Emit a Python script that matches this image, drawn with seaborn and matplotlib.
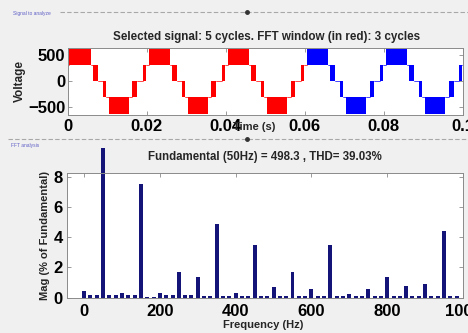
import numpy as np
import matplotlib
matplotlib.use("Agg")
import matplotlib.pyplot as plt
import seaborn as sns
from matplotlib.lines import Line2D

# ---- signal: one 20 ms cycle of the multilevel PWM waveform
period_ms = 20.0
n_cycles = 5
n_red = 3
block_start = [0.5, 6.35, 8.95, 10.45, 16.4, 19.0]     # ms
block_end = [5.85, 7.65, 9.75, 15.5, 17.6, 19.75]      # ms
block_low = [310, 0, -310, -630, -310, 0]
block_high = [630, 310, 0, -310, 0, 310]
hold_level = [310, 0, -310, -310, 0, 310]              # level after each block

# ---- FFT: 3-cycle window -> 16.67 Hz bins
harm_mag = [0.45, 9.9, 0.3, 7.5, 0.33, 1.67, 1.35, 4.85, 0.3, 3.5,
            0.7, 1.67, 0.57, 3.5, 0.24, 0.57, 1.35, 0.78, 0.9, 4.4]
side_mag = [0.2, 0.18, 0.15, 0.07, 0.15, 0.15, 0.12, 0.12, 0.13, 0.12,
            0.12, 0.1, 0.08, 0.12, 0.12, 0.12, 0.12, 0.12, 0.12, 0.12]
fundamental = 498.3
thd = 39.03

mags = []
for h, s in zip(harm_mag, side_mag):
    mags += [h, s, s]
freqs = np.arange(len(mags)) * 50.0 / 3.0

sns.set_theme(style="white")
plt.rcParams['font.family'] = ['Liberation Sans', 'DejaVu Sans']
plt.rcParams['font.weight'] = 'bold'

bg = '#f0f0f0'
fig = plt.figure(figsize=(4.68, 3.33), dpi=100, facecolor=bg)
W, H = 468.0, 333.0

def axes_px(l, t, r, b):
    return fig.add_axes([l / W, 1 - b / H, (r - l) / W, (b - t) / H])

def style_axes(ax):
    for sp in ax.spines.values():
        sp.set_color('#8a8a8a')
        sp.set_linewidth(0.7)
    ax.tick_params(direction='in', length=3, width=0.6, color='#8a8a8a',
                   top=True, right=True, bottom=True, left=True,
                   labelsize=12, labelcolor='black')
    for lab in ax.get_xticklabels() + ax.get_yticklabels():
        lab.set_fontweight('bold')

# ---- top panel: signal
ax1 = axes_px(67.5, 48, 463, 115)
ax1.set_facecolor('white')
for c in range(n_cycles):
    col = '#ff0000' if c < n_red else '#0000ff'
    t0 = c * period_ms
    for i in range(len(block_start)):
        ts = (t0 + block_start[i]) / 1000
        te = (t0 + block_end[i]) / 1000
        ax1.fill_between([ts, te], block_low[i], block_high[i], color=col, lw=0)
        nxt = (t0 + (block_start[i + 1] if i + 1 < len(block_start)
                     else period_ms + block_start[0])) / 1000
        ax1.plot([te, min(nxt, 0.1)], [hold_level[i]] * 2, color=col, lw=0.5)
    if c == 0:
        ax1.plot([0, block_start[0] / 1000], [hold_level[-1]] * 2, color=col, lw=0.5)
ax1.set_xlim(0, 0.1)
ax1.set_ylim(-650, 640)
ax1.set_xticks([0, 0.02, 0.04, 0.06, 0.08, 0.1])
ax1.set_xticklabels(['0', '0.02', '0.04', '0.06', '0.08', '0.1'])
ax1.set_yticks([-500, 0, 500])
style_axes(ax1)
ax1.tick_params(axis='x', pad=3)
ax1.tick_params(axis='y', pad=1.5)
ax1.set_xlabel('Time (s)', fontsize=8, fontweight='bold', va='center')
ax1.xaxis.set_label_coords(0.471, -0.18)
ax1.set_ylabel('Voltage', fontsize=8.5, fontweight='bold', va='center')
ax1.yaxis.set_label_coords(-0.12, 0.5)
ax1.text(0.504, 1.165, 'Selected signal: 5 cycles. FFT window (in red): 3 cycles',
         transform=ax1.transAxes, ha='center', va='center', fontsize=8.4, fontweight='bold')

# ---- bottom panel: FFT
ax2 = axes_px(66.7, 173, 463, 297.7)
ax2.set_facecolor('white')
sns.barplot(x=freqs, y=mags, native_scale=True, width=0.63, color='#141478',
            saturation=1, linewidth=0, ax=ax2)
for p in ax2.patches:
    p.set_clip_on(False)
ax2.set_xlim(-46, 1000)
ax2.set_ylim(0, 8.25)
ax2.set_xticks([0, 200, 400, 600, 800, 1000])
ax2.set_xticklabels(['0', '200', '400', '600', '800', '1000'])
ax2.set_yticks([0, 2, 4, 6, 8])
style_axes(ax2)
ax2.tick_params(axis='x', pad=4.5)
ax2.tick_params(axis='y', pad=3)
ax2.set_xlabel('Frequency (Hz)', fontsize=8, fontweight='bold', va='center')
ax2.xaxis.set_label_coords(0.495, -0.22)
ax2.set_ylabel('Mag (% of Fundamental)', fontsize=8, fontweight='bold', va='center')
ax2.yaxis.set_label_coords(-0.055, 0.5)
ax2.text(0.5, 1.128, f'Fundamental (50Hz) = {fundamental} , THD= {thd}%',
         transform=ax2.transAxes, ha='center', va='center', fontsize=8.3, fontweight='bold')

# ---- panel frames (dashed borders with small titles)
for y, x0 in [(12, 60), (139, 8)]:
    fig.add_artist(Line2D([x0 / W, 1], [1 - y / H] * 2, transform=fig.transFigure,
                          color='#a8a8a8', lw=0.8, ls=(0, (4, 2))))
    fig.add_artist(Line2D([247 / W], [1 - y / H], transform=fig.transFigure,
                          marker='o', ms=2.5, color='#333333', lw=0))
fig.text(13 / W, 1 - 14 / H, 'Signal to analyze', fontsize=3.5, color='#6060c8',
         fontweight='normal', va='center')
fig.text(11 / W, 1 - 145 / H, 'FFT analysis', fontsize=3.5, color='#6060c8',
         fontweight='normal', va='center')

fig.savefig('out.png', dpi=100, facecolor=bg)
